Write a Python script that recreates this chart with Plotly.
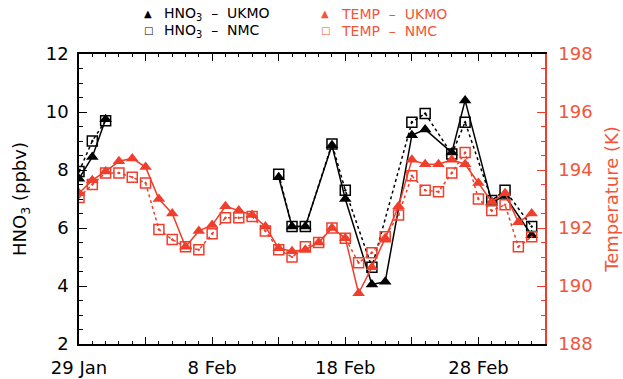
import plotly.graph_objects as go

# Day offsets counted from 29 Jan (day 0) to early March
temp_days = list(range(0, 35))
temp_ukmo = [193.2, 193.65, 193.95, 194.3, 194.4, 194.1, 193.0, 192.5, 191.35, 191.9,
             192.1, 192.75, 192.6, 192.45, 192.05, 191.3, 191.2, 191.25, 191.5, 192.0,
             191.65, 189.75, 190.65, 191.65, 192.75, 194.35, 194.2, 194.2, 194.35, 194.2,
             193.55, 192.9, 193.2, 192.2, 192.5]
temp_nmc = [193.05, 193.5, 193.9, 193.9, 193.75, 193.55, 191.95, 191.6, 191.35, 191.25,
            191.8, 192.35, 192.35, 192.4, 191.9, 191.25, 191.0, 191.35, 191.5, 192.0,
            191.65, 190.8, 191.15, 191.7, 192.45, 193.8, 193.3, 193.25, 193.9, 194.6,
            193.0, 192.6, 192.8, 191.35, 191.7]

# HNO3 (ppbv); None marks the break in coverage
hno3_ukmo_days = [0, 1, 2, None, 15, 16, 17, 19, 20, 22, 23, 25, 26, 28, 29, 31, 32, 34]
hno3_ukmo = [7.7, 8.45, 9.75, None, 7.75, 6.05, 6.05, 8.85, 7.0, 4.05, 4.15, 9.2, 9.4,
             8.6, 10.4, 6.9, 7.1, 5.75]
hno3_nmc_days = [0, 1, 2, None, 15, 16, 17, 19, 20, 22, 25, 26, 28, 29, 31, 32, 34]
hno3_nmc = [7.95, 9.0, 9.7, None, 7.85, 6.05, 6.05, 8.9, 7.3, 4.65, 9.65, 9.95, 8.55,
            9.65, 6.95, 7.3, 6.05]

x_tickvals = [0, 5, 10, 15, 20, 25, 30, 35]
x_ticktext = ["29 Jan", "", "8 Feb", "", "18 Feb", "", "28 Feb", ""]

RED = "#ef3f2c"
RED_TXT = "#f2563a"
BLACK = "#000000"
FONT = "DejaVu Sans"

fig = go.Figure()

fig.add_trace(go.Scatter(
    x=temp_days, y=temp_nmc, yaxis="y2", mode="lines+markers",
    line=dict(color=RED, width=1.5, dash="dot"),
    marker=dict(symbol="square-open-dot", size=10, color=RED, line=dict(width=1.5)),
    showlegend=False))
fig.add_trace(go.Scatter(
    x=temp_days, y=temp_ukmo, yaxis="y2", mode="lines+markers",
    line=dict(color=RED, width=1.5),
    marker=dict(symbol="triangle-up", size=11, color=RED),
    showlegend=False))
fig.add_trace(go.Scatter(
    x=hno3_nmc_days, y=hno3_nmc, mode="lines+markers", connectgaps=False,
    line=dict(color=BLACK, width=1.5, dash="dot"),
    marker=dict(symbol="square-open-dot", size=10, color=BLACK, line=dict(width=1.5)),
    showlegend=False))
fig.add_trace(go.Scatter(
    x=hno3_ukmo_days, y=hno3_ukmo, mode="lines+markers", connectgaps=False,
    line=dict(color=BLACK, width=1.5),
    marker=dict(symbol="triangle-up", size=11, color=BLACK),
    showlegend=False))

# Key above the plot
L, R, T, B = 79, 78, 54, 35
W, H = 623, 379
pw, ph = W - L - R, H - T - B


def px(xp):
    return (xp - L) / pw


def py(yp):
    return (H - B - yp) / ph


key = [
    (148, 14, "\u25B2", BLACK, "HNO<sub>3</sub>\u00a0\u00a0\u2013\u00a0\u00a0UKMO"),
    (148, 31, "\u25A1", BLACK, "HNO<sub>3</sub>\u00a0\u00a0\u2013\u00a0\u00a0NMC"),
    (325, 14, "\u25B2", RED_TXT, "TEMP\u00a0\u00a0\u2013\u00a0\u00a0UKMO"),
    (325, 31, "\u25A1", RED_TXT, "TEMP\u00a0\u00a0\u2013\u00a0\u00a0NMC"),
]
annotations = []
for mx, my, sym, col, label in key:
    annotations.append(dict(x=px(mx), y=py(my), xref="paper", yref="paper",
                            text=sym, showarrow=False, xanchor="center", yanchor="middle",
                            font=dict(family=FONT, size=10, color=col)))
    annotations.append(dict(x=px(mx + 14), y=py(my), xref="paper", yref="paper",
                            text=label, showarrow=False, xanchor="left", yanchor="middle",
                            font=dict(family=FONT, size=14, color=col)))

fig.update_layout(
    width=W, height=H,
    margin=dict(l=L, r=R, t=T, b=B, pad=0, autoexpand=False),
    paper_bgcolor="white", plot_bgcolor="white",
    font=dict(family=FONT, size=18, color=BLACK),
    annotations=annotations,
    xaxis=dict(
        range=[0, 35], tickmode="array", tickvals=x_tickvals, ticktext=x_ticktext,
        ticks="inside", ticklen=7, tickwidth=1.2, tickcolor=BLACK,
        minor=dict(tick0=0, dtick=1, ticks="inside", ticklen=3, tickwidth=1.2, tickcolor=BLACK),
        showline=True, linecolor=BLACK, linewidth=1.5, mirror="ticks",
        showgrid=False, zeroline=False, ticklabelstandoff=7, automargin=False,
        tickfont=dict(family=FONT, size=18, color=BLACK)),
    yaxis=dict(
        range=[2, 12], tick0=2, dtick=2,
        ticks="inside", ticklen=8, tickwidth=1.2, tickcolor=BLACK,
        minor=dict(dtick=0.5, ticks="inside", ticklen=4, tickwidth=1.2, tickcolor=BLACK),
        showline=True, linecolor=BLACK, linewidth=1.5,
        showgrid=False, zeroline=False, ticklabelstandoff=5, automargin=False,
        tickfont=dict(family=FONT, size=18, color=BLACK),
        title=dict(text="HNO<sub>3</sub> (ppbv)", standoff=14,
                   font=dict(family=FONT, size=18, color=BLACK))),
    yaxis2=dict(
        range=[188, 198], tick0=188, dtick=2, overlaying="y", side="right",
        ticks="inside", ticklen=8, tickwidth=1.2, tickcolor=RED,
        minor=dict(dtick=0.5, ticks="inside", ticklen=4, tickwidth=1.2, tickcolor=RED),
        showline=True, linecolor=RED, linewidth=1.5,
        showgrid=False, zeroline=False, ticklabelstandoff=8, automargin=False,
        tickfont=dict(family=FONT, size=18, color=RED_TXT),
        title=dict(text="Temperature (K)", standoff=14,
                   font=dict(family=FONT, size=18, color=RED_TXT))),
)

fig.write_html("out.html")
